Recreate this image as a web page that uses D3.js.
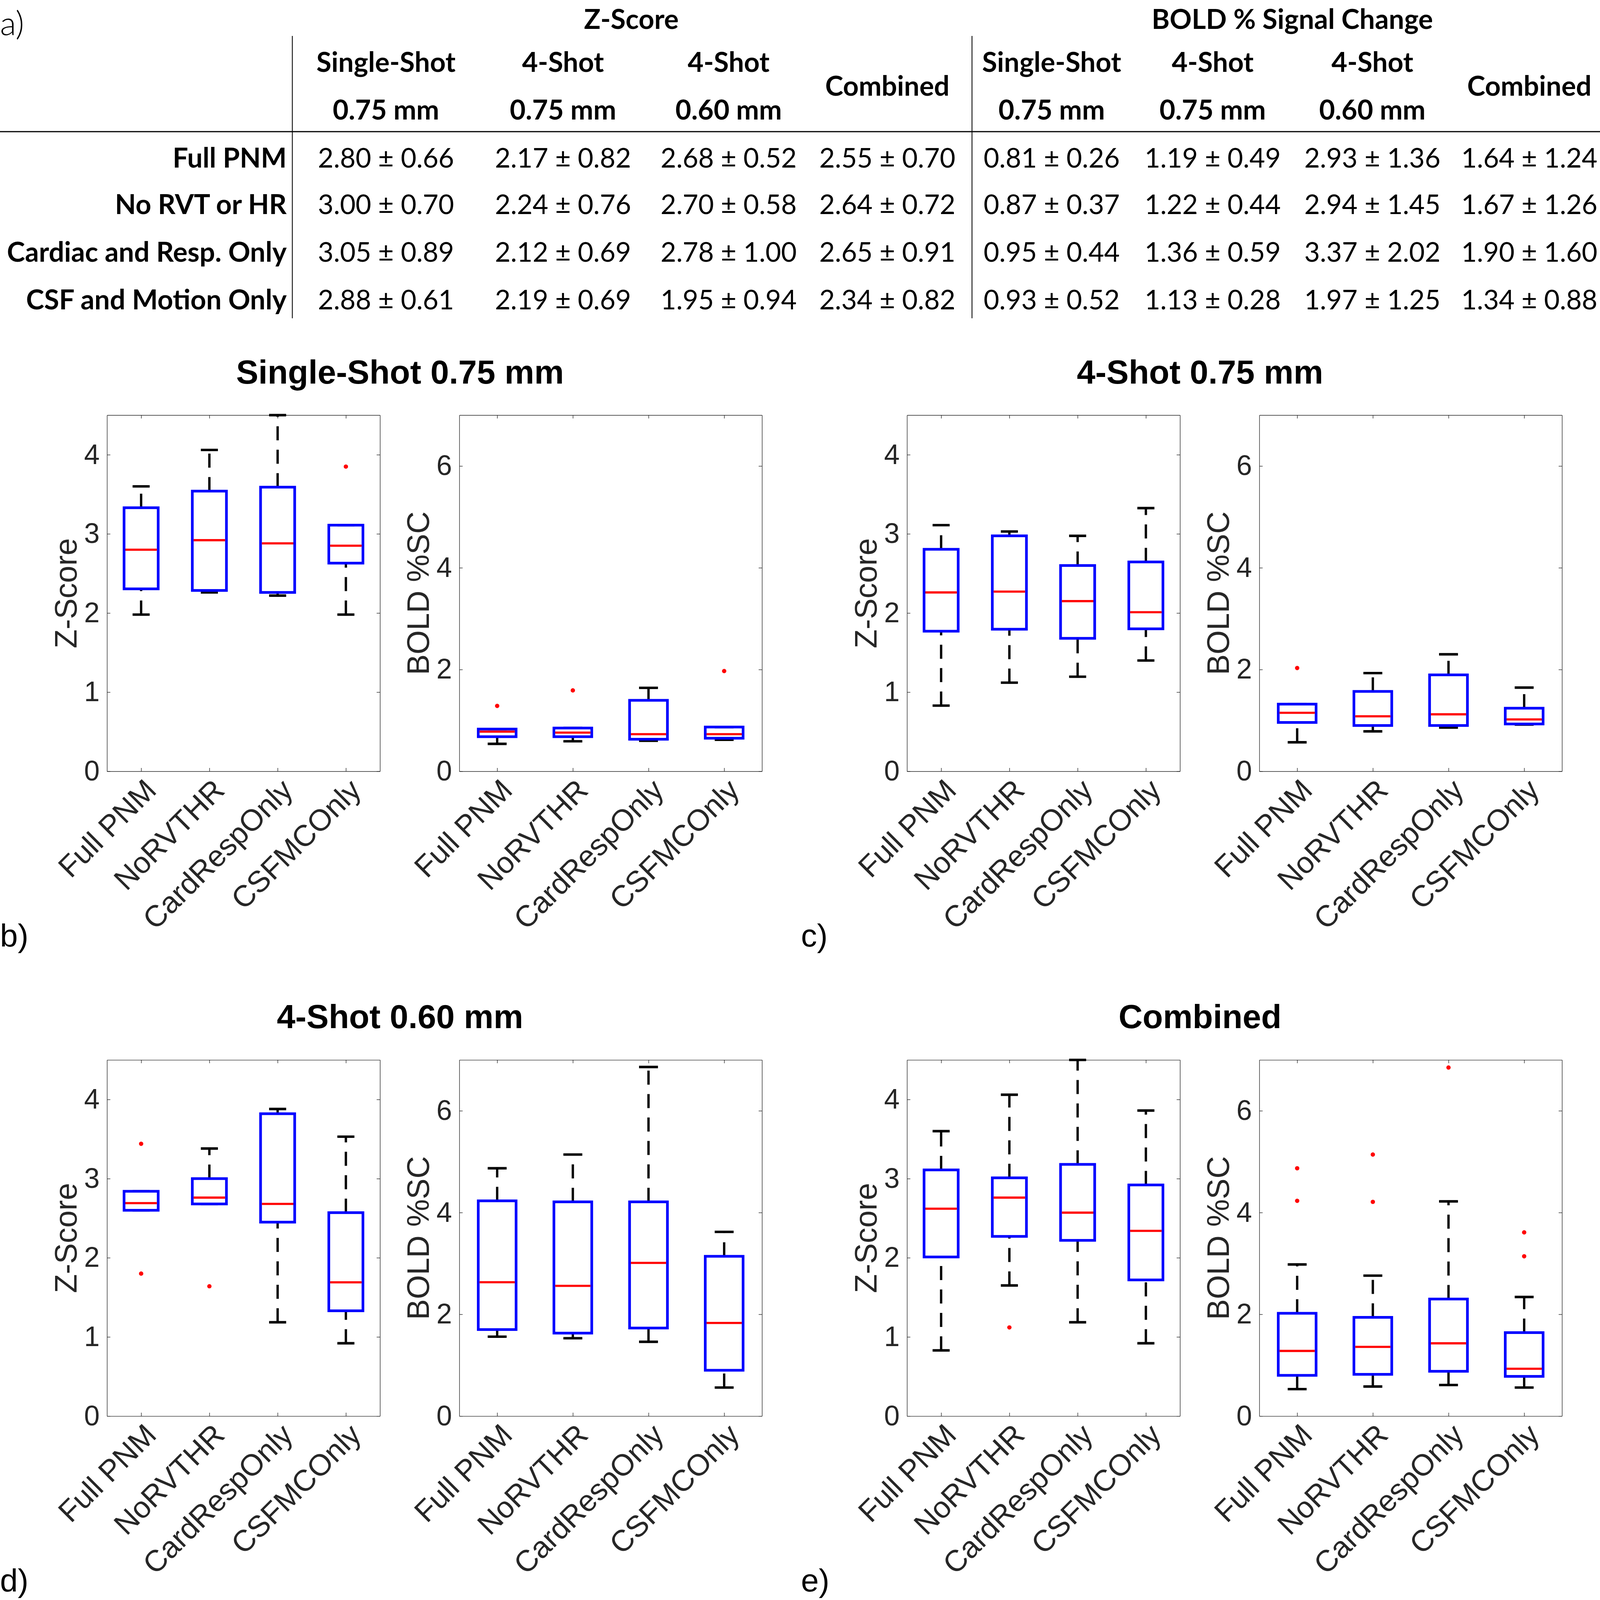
<!DOCTYPE html>
<html>
<head>
<meta charset="utf-8">
<script src="https://cdn.jsdelivr.net/npm/d3@7"></script>
<style>
  html, body { margin: 0; padding: 0; background: #fff; overflow: hidden; }
  svg { display: block; }
</style>
</head>
<body>
<svg id="fig"></svg>
<script>
// ---- table (a) ----
var tableGroups = ['Z-Score', 'BOLD % Signal Change'];
var tableCols = [['Single-Shot', '0.75 mm'], ['4-Shot', '0.75 mm'], ['4-Shot', '0.60 mm'], ['Combined']];
var tableRows = ['Full PNM', 'No RVT or HR', 'Cardiac and Resp. Only', 'CSF and Motion Only'];
var zMean = [[2.80, 2.17, 2.68, 2.55], [3.00, 2.24, 2.70, 2.64], [3.05, 2.12, 2.78, 2.65], [2.88, 2.19, 1.95, 2.34]];
var zSd = [[0.66, 0.82, 0.52, 0.70], [0.70, 0.76, 0.58, 0.72], [0.89, 0.69, 1.00, 0.91], [0.61, 0.69, 0.94, 0.82]];
var boldMean = [[0.81, 1.19, 2.93, 1.64], [0.87, 1.22, 2.94, 1.67], [0.95, 1.36, 3.37, 1.90], [0.93, 1.13, 1.97, 1.34]];
var boldSd = [[0.26, 0.49, 1.36, 1.24], [0.37, 0.44, 1.45, 1.26], [0.44, 0.59, 2.02, 1.60], [0.52, 0.28, 1.25, 0.88]];

// ---- box plots (b-e): [lower whisker, q1, median, q3, upper whisker] ----
var categories = ['Full PNM', 'NoRVTHR', 'CardRespOnly', 'CSFMCOnly'];
var panelTitles = ['Single-Shot 0.75 mm', '4-Shot 0.75 mm', '4-Shot 0.60 mm', 'Combined'];
var panelLabels = ['b)', 'c)', 'd)', 'e)'];
var zTicks = [0, 1, 2, 3, 4];
var boldTicks = [0, 2, 4, 6];

var zSS075 = [[1.98, 2.305, 2.80, 3.33, 3.60], [2.26, 2.285, 2.92, 3.54, 4.06], [2.22, 2.26, 2.88, 3.59, 4.50], [1.98, 2.63, 2.85, 3.11, 3.11]];
var zSS075Out = [[], [], [], [3.85]];
var boldSS075 = [[0.54, 0.68, 0.78, 0.83, 0.83], [0.59, 0.68, 0.76, 0.85, 0.85], [0.60, 0.63, 0.73, 1.395, 1.64], [0.62, 0.65, 0.73, 0.87, 0.87]];
var boldSS075Out = [[1.285], [1.59], [], [1.97]];

var z4S075 = [[0.83, 1.77, 2.26, 2.805, 3.11], [1.12, 1.795, 2.27, 2.975, 3.03], [1.195, 1.68, 2.15, 2.60, 2.975], [1.40, 1.80, 2.01, 2.645, 3.325]];
var z4S075Out = [[], [], [], []];
var bold4S075 = [[0.57, 0.96, 1.15, 1.32, 1.32], [0.785, 0.90, 1.08, 1.57, 1.93], [0.86, 0.90, 1.12, 1.895, 2.30], [0.92, 0.93, 1.02, 1.24, 1.645]];
var bold4S075Out = [[2.03], [], [], []];

var z4S060 = [[2.60, 2.60, 2.69, 2.84, 2.84], [2.68, 2.68, 2.76, 3.00, 3.38], [1.185, 2.45, 2.68, 3.82, 3.88], [0.92, 1.33, 1.69, 2.57, 3.53]];
var z4S060Out = [[3.44, 1.80], [1.64], [], []];
var bold4S060 = [[1.56, 1.70, 2.63, 4.23, 4.87], [1.53, 1.63, 2.56, 4.21, 5.14], [1.46, 1.73, 3.01, 4.21, 6.86], [0.56, 0.90, 1.83, 3.14, 3.62]];
var bold4S060Out = [[], [], [], []];

var zComb = [[0.83, 2.01, 2.62, 3.11, 3.60], [1.65, 2.27, 2.76, 3.01, 4.06], [1.185, 2.22, 2.57, 3.18, 4.50], [0.92, 1.72, 2.34, 2.92, 3.86]];
var zCombOut = [[], [1.12], [], []];
var boldComb = [[0.53, 0.80, 1.28, 2.02, 2.98], [0.58, 0.82, 1.36, 1.94, 2.76], [0.61, 0.88, 1.43, 2.30, 4.22], [0.56, 0.78, 0.93, 1.64, 2.34]];
var boldCombOut = [[4.87, 4.23], [5.14, 4.21], [6.85], [3.61, 3.14]];

// layout is worked out on a 4800 x 4097 sheet, then fitted to the real window
var W = window.innerWidth || 4800;
var H = window.innerHeight || 4097;
var sx = W / 4800, sy = H / 4097, sf = Math.min(sx, sy);
function X(v) { return v * sx; }
function Y(v) { return v * sy; }
function F(v) { return (v * sf) + 'px'; }

var svg = d3.select('#fig').attr('width', W).attr('height', H);
svg.append('rect').attr('width', W).attr('height', H).attr('fill', '#fff');

var tableFont = 'Lato, "Open Sans", sans-serif';
var plotFont = '"Liberation Sans", Arial, Helvetica, sans-serif';

function drawTable() {
  var t = svg.append('g').attr('class', 'table');
  var colX = [[1158, 1689, 2186, 2662], [3155, 3638, 4117, 4588]];
  var groupX = [1894, 3877];
  var rowY = [429, 548, 670, 792];
  var hdr = 82;

  t.append('text').attr('x', 0).attr('y', Math.max(Y(90), 100 * sf))
    .style('font-family', tableFont).style('font-weight', 300).style('font-size', F(100))
    .text('a)');

  t.append('line').attr('x1', 0).attr('x2', W).attr('y1', Y(337)).attr('y2', Y(337))
    .attr('stroke', '#000').attr('stroke-width', 3.5 * sf);
  [877, 2916].forEach(function (x) {
    t.append('line').attr('x1', X(x)).attr('x2', X(x)).attr('y1', Y(92)).attr('y2', Y(815))
      .attr('stroke', '#000').attr('stroke-width', 2.5 * sf);
  });

  var bold = function (sel) {
    return sel.style('font-family', tableFont).style('font-weight', 700)
      .style('font-size', F(hdr)).attr('fill', '#000');
  };

  tableGroups.forEach(function (g, gi) {
    // keep the whole glyph box inside the sheet
    bold(t.append('text')).attr('x', X(groupX[gi])).attr('y', Math.max(Y(64), hdr * sf + 4))
      .attr('text-anchor', 'middle').text(g);
    tableCols.forEach(function (c, ci) {
      if (c.length === 2) {
        bold(t.append('text')).attr('x', X(colX[gi][ci])).attr('y', Y(184))
          .attr('text-anchor', 'middle').text(c[0]);
        bold(t.append('text')).attr('x', X(colX[gi][ci])).attr('y', Y(306))
          .attr('text-anchor', 'middle').text(c[1]);
      } else {
        bold(t.append('text')).attr('x', X(colX[gi][ci])).attr('y', Y(245))
          .attr('text-anchor', 'middle').text(c[0]);
      }
    });
  });

  tableRows.forEach(function (r, ri) {
    bold(t.append('text')).attr('x', X(860)).attr('y', Y(rowY[ri]))
      .attr('text-anchor', 'end').text(r);
    [[zMean, zSd], [boldMean, boldSd]].forEach(function (pair, gi) {
      pair[0][ri].forEach(function (m, ci) {
        t.append('text').attr('x', X(colX[gi][ci])).attr('y', Y(rowY[ri]))
          .attr('text-anchor', 'middle')
          .style('font-family', tableFont).style('font-size', F(81))
          .text(m.toFixed(2) + ' \u00b1 ' + pair[1][ri][ci].toFixed(2));
      });
    });
  });
}

function boxAxes(g, x0, x1, y0, y1, ymax, ticks, label, stats, outliers) {
  var x = d3.scalePoint().domain(categories).range([X(x0), X(x1)]).padding(0.5);
  var y = d3.scaleLinear().domain([0, ymax]).range([Y(y1), Y(y0)]);
  var unit = x.step();
  var tickLen = 10 * sf;

  var ax = g.append('g').attr('class', 'axes');
  var yl = ax.append('g').attr('transform', 'translate(' + X(x0) + ',0)')
    .call(d3.axisLeft(y).tickValues(ticks).tickFormat(d3.format('d'))
      .tickSize(-tickLen).tickSizeOuter(0).tickPadding(22 * sx));
  ax.append('g').attr('transform', 'translate(' + X(x1) + ',0)')
    .call(d3.axisRight(y).tickValues(ticks).tickSize(-tickLen).tickSizeOuter(0).tickFormat(''));
  ax.append('g').attr('transform', 'translate(0,' + Y(y0) + ')')
    .call(d3.axisTop(x).tickSize(-tickLen).tickSizeOuter(0).tickFormat(''));
  var xb = ax.append('g').attr('transform', 'translate(0,' + Y(y1) + ')')
    .call(d3.axisBottom(x).tickSize(-tickLen).tickSizeOuter(0));
  ax.selectAll('path.domain').attr('stroke', '#262626').attr('stroke-width', 1.6 * sf);
  ax.selectAll('.tick line').attr('stroke', '#262626').attr('stroke-width', 1.6 * sf);
  yl.selectAll('text').style('font-family', plotFont).style('font-size', F(84)).attr('fill', '#262626');
  xb.selectAll('text')
    .attr('transform', 'translate(' + (50 * sf) + ',' + (62 * sf) + ') rotate(-45)')
    .attr('text-anchor', 'end').attr('dy', 0).attr('y', 0)
    .style('font-family', plotFont).style('font-size', F(90)).attr('fill', '#262626');

  g.append('text')
    .attr('transform', 'translate(' + (X(x0) - 91 * sx) + ',' + Y((y0 + y1) / 2) + ') rotate(-90)')
    .attr('text-anchor', 'middle')
    .style('font-family', plotFont).style('font-size', F(93)).attr('fill', '#262626')
    .text(label);

  var box = g.selectAll('g.box').data(stats).enter().append('g').attr('class', 'box');
  // whiskers run from the lower value up, so the dash phase starts there
  var dash = (36 * sy) + ',' + (24 * sy);
  box.append('path')
    .attr('d', function (d, i) { var cx = x(categories[i]); return 'M' + cx + ',' + y(d[0]) + 'V' + y(d[1]); })
    .attr('stroke', '#000').attr('stroke-width', 7 * sf).attr('stroke-dasharray', dash).attr('fill', 'none');
  box.append('path')
    .attr('d', function (d, i) { var cx = x(categories[i]); return 'M' + cx + ',' + y(d[3]) + 'V' + y(d[4]); })
    .attr('stroke', '#000').attr('stroke-width', 7 * sf).attr('stroke-dasharray', dash).attr('fill', 'none');
  [0, 4].forEach(function (k) {
    box.append('line')
      .attr('x1', function (d, i) { return x(categories[i]) - unit * 0.125; })
      .attr('x2', function (d, i) { return x(categories[i]) + unit * 0.125; })
      .attr('y1', function (d) { return y(d[k]); })
      .attr('y2', function (d) { return y(d[k]); })
      .attr('stroke', '#000').attr('stroke-width', 7.5 * sf);
  });
  box.append('rect')
    .attr('x', function (d, i) { return x(categories[i]) - unit * 0.25; })
    .attr('width', unit * 0.5)
    .attr('y', function (d) { return y(d[3]); })
    .attr('height', function (d) { return y(d[1]) - y(d[3]); })
    .attr('fill', 'none').attr('stroke', '#0000ff').attr('stroke-width', 8 * sf);
  box.append('line')
    .attr('x1', function (d, i) { return x(categories[i]) - unit * 0.25 + 4 * sf; })
    .attr('x2', function (d, i) { return x(categories[i]) + unit * 0.25 - 4 * sf; })
    .attr('y1', function (d) { return y(d[2]); })
    .attr('y2', function (d) { return y(d[2]); })
    .attr('stroke', '#ff0000').attr('stroke-width', 6.5 * sf);

  outliers.forEach(function (vals, i) {
    g.selectAll(null).data(vals).enter().append('circle')
      .attr('cx', x(categories[i])).attr('cy', function (v) { return y(v); })
      .attr('r', 6.5 * sf).attr('fill', '#ff0000');
  });
}

function drawPanels() {
  var panels = [
    [zSS075, zSS075Out, boldSS075, boldSS075Out],
    [z4S075, z4S075Out, bold4S075, bold4S075Out],
    [z4S060, z4S060Out, bold4S060, bold4S060Out],
    [zComb, zCombOut, boldComb, boldCombOut]
  ];
  panels.forEach(function (p, pi) {
    var ox = (pi % 2) * 2400;
    var oy = Math.floor(pi / 2) * 1651;
    var g = svg.append('g').attr('class', 'panel');
    var top = 1063 + oy, bottom = 1975 + oy;

    g.append('text').attr('x', X(ox + 1200)).attr('y', Y(982 + oy))
      .attr('text-anchor', 'middle')
      .style('font-family', plotFont).style('font-weight', 700).style('font-size', F(100))
      .text(panelTitles[pi]);
    g.append('text').attr('x', X(ox + (pi % 2 ? 3 : 0))).attr('y', Y(2424 + oy))
      .style('font-family', plotFont).style('font-size', F(96))
      .text(panelLabels[pi]);

    boxAxes(g.append('g'), ox + 321, ox + 1140, top, bottom, 4.5, zTicks, 'Z-Score', p[0], p[1]);
    boxAxes(g.append('g'), ox + 1378, ox + 2286, top, bottom, 7, boldTicks, 'BOLD %SC', p[2], p[3]);
  });
}

drawTable();
drawPanels();
</script>
</body>
</html>
